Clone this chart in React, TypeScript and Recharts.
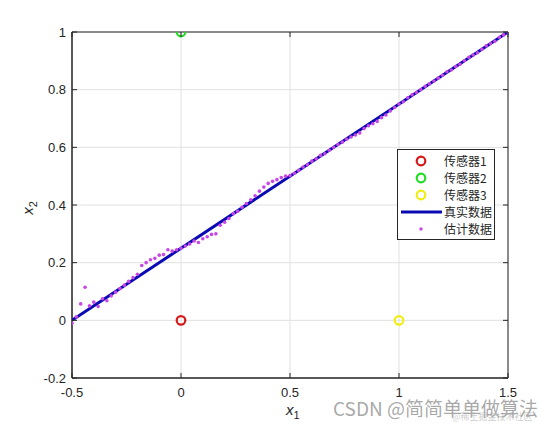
import { ScatterChart, Scatter, XAxis, YAxis, CartesianGrid, ReferenceArea, Legend } from 'recharts';

// axis ticks
const xTicks = [-0.5, 0, 0.5, 1, 1.5];
const yTicks = [-0.2, 0, 0.2, 0.4, 0.6, 0.8, 1];

// sensor positions
const sensor1 = [{ x: 0, y: 0 }];
const sensor2 = [{ x: 0, y: 1 }];
const sensor3 = [{ x: 1, y: 0 }];

// true trajectory (end points)
const trueX = [-0.5, 1.5];
const trueY = [0, 1];

// estimated trajectory
const estX = [
  -0.5, -0.48, -0.46, -0.44, -0.42, -0.4, -0.38, -0.36, -0.34, -0.32, -0.3, -0.28, -0.26, -0.24, -0.22, -0.2,
  -0.18, -0.16, -0.14, -0.12, -0.1, -0.08, -0.06, -0.04, -0.02, 0, 0.02, 0.04, 0.06, 0.08, 0.1, 0.12, 0.14,
  0.16, 0.18, 0.2, 0.22, 0.24, 0.26, 0.28, 0.3, 0.32, 0.34, 0.36, 0.38, 0.4, 0.42, 0.44, 0.46, 0.48, 0.5,
  0.52, 0.54, 0.56, 0.58, 0.6, 0.62, 0.64, 0.66, 0.68, 0.7, 0.72, 0.74, 0.76, 0.78, 0.8, 0.82, 0.84, 0.86,
  0.88, 0.9, 0.92, 0.94, 0.96, 0.98, 1, 1.02, 1.04, 1.06, 1.08, 1.1, 1.12, 1.14, 1.16, 1.18, 1.2, 1.22, 1.24,
  1.26, 1.28, 1.3, 1.32, 1.34, 1.36, 1.38, 1.4, 1.42, 1.44, 1.46, 1.48, 1.5,
];
const estY = [
  -0.01, 0.012, 0.057, 0.115, 0.05, 0.063, 0.048, 0.075, 0.068, 0.085, 0.097, 0.11, 0.122, 0.135, 0.148, 0.16,
  0.19, 0.2, 0.21, 0.215, 0.226, 0.228, 0.245, 0.24, 0.245, 0.25, 0.258, 0.265, 0.275, 0.27, 0.283, 0.29, 0.298,
  0.3, 0.33, 0.34, 0.353, 0.37, 0.378, 0.392, 0.405, 0.418, 0.432, 0.448, 0.462, 0.475, 0.482, 0.488, 0.495, 0.5, 0.502,
  0.51, 0.52, 0.532, 0.54, 0.552, 0.56, 0.572, 0.578, 0.59, 0.6, 0.61, 0.618, 0.628, 0.636, 0.643, 0.65, 0.665, 0.675,
  0.682, 0.69, 0.703, 0.712, 0.726, 0.738, 0.75, 0.758, 0.772, 0.782, 0.79, 0.8, 0.812, 0.82, 0.83, 0.84, 0.85, 0.862, 0.868,
  0.88, 0.888, 0.9, 0.912, 0.92, 0.928, 0.94, 0.952, 0.96, 0.968, 0.982, 0.99, 1.0,
];

const legendOrder = ['传感器1', '传感器2', '传感器3', '真实数据', '估计数据'];

const trueData = trueX.map((x, i) => ({ x, y: trueY[i] }));
const estData = estX.map((x, i) => ({ x, y: estY[i] }));

const TOP = 32;
const BOTTOM = 378;
const LEFT = 72;
const RIGHT = 508;
const AXIS_COLOR = '#262626';
const FONT = '"Liberation Sans", Arial, Helvetica, sans-serif';

const styles: Record<string, { kind: string; color: string }> = {
  '传感器1': { kind: 'ring', color: '#d81818' },
  '传感器2': { kind: 'ring', color: '#22dd22' },
  '传感器3': { kind: 'ring', color: '#eeee10' },
  '真实数据': { kind: 'line', color: '#0a0ab4' },
  '估计数据': { kind: 'dot', color: '#c846e6' },
};

const ring = (color: string) => (p: any) => (
  <circle cx={p.cx} cy={p.cy} r={4.3} fill="none" stroke={color} strokeWidth={2.2} />
);

const XTick = (p: any) => (
  <g>
    <line x1={p.x} y1={BOTTOM} x2={p.x} y2={BOTTOM - 5} stroke={AXIS_COLOR} />
    <line x1={p.x} y1={TOP} x2={p.x} y2={TOP + 5} stroke={AXIS_COLOR} />
    <text x={p.x} y={BOTTOM + 19} textAnchor="middle" fontSize={13} fill={AXIS_COLOR} fontFamily={FONT}>
      {String(p.payload.value)}
    </text>
  </g>
);

const YTick = (p: any) => (
  <g>
    <line x1={LEFT} y1={p.y} x2={LEFT + 5} y2={p.y} stroke={AXIS_COLOR} />
    <line x1={RIGHT} y1={p.y} x2={RIGHT - 5} y2={p.y} stroke={AXIS_COLOR} />
    <text x={LEFT - 6} y={p.y + 4.5} textAnchor="end" fontSize={13} fill={AXIS_COLOR} fontFamily={FONT}>
      {String(p.payload.value)}
    </text>
  </g>
);

const LegendBox = (props: any) => {
  const items = [...(props.payload || [])].sort(
    (a: any, b: any) => legendOrder.indexOf(a.value) - legendOrder.indexOf(b.value)
  );
  return (
    <div
      style={{
        border: '1px solid #262626',
        background: '#fff',
        width: 96,
        padding: '2px 0',
        fontFamily: '"Noto Sans CJK SC", sans-serif',
        fontSize: 12,
        color: '#262626',
      }}
    >
      {items.map((e: any) => {
        const s = styles[e.value] || { kind: 'dot', color: e.color };
        return (
          <div key={e.value} style={{ display: 'flex', alignItems: 'center', height: 17 }}>
            <svg width={46} height={16}>
              {s.kind === 'ring' && <circle cx={23} cy={8} r={4.3} fill="none" stroke={s.color} strokeWidth={2.2} />}
              {s.kind === 'line' && <line x1={3} y1={8} x2={44} y2={8} stroke={s.color} strokeWidth={3} />}
              {s.kind === 'dot' && <circle cx={23} cy={8} r={1.7} fill={s.color} />}
            </svg>
            <span style={{ lineHeight: '16px' }}>{e.value}</span>
          </div>
        );
      })}
    </div>
  );
};

export default function App() {
  return (
    <div style={{ position: 'absolute', left: 0, top: 0, width: 560, height: 424, background: '#fff' }}>
      <ScatterChart width={560} height={424} margin={{ top: TOP, right: 560 - RIGHT, bottom: 0, left: 0 }}>
        <CartesianGrid stroke="#e0e0e0" vertical horizontal />
        <XAxis
          type="number"
          dataKey="x"
          domain={[-0.5, 1.5]}
          ticks={xTicks}
          height={424 - BOTTOM}
          tickSize={0}
          tickMargin={0}
          axisLine={{ stroke: AXIS_COLOR }}
          tick={XTick}
          allowDataOverflow
          label={{
            content: (lp: any) => {
              const vb = lp.viewBox;
              return (
                <text x={vb.x + vb.width / 2 - 4} y={vb.y + 37} fontSize={15} fill={AXIS_COLOR} fontFamily={FONT}>
                  <tspan fontStyle="italic">x</tspan>
                  <tspan fontSize={11} dy={4}>1</tspan>
                </text>
              );
            },
          }}
        />
        <YAxis
          type="number"
          dataKey="y"
          domain={[-0.2, 1]}
          ticks={yTicks}
          width={LEFT}
          tickSize={0}
          tickMargin={0}
          axisLine={{ stroke: AXIS_COLOR }}
          tick={YTick}
          allowDataOverflow
          label={{
            content: (lp: any) => {
              const vb = lp.viewBox;
              const cx = vb.x + 33;
              const cy = vb.y + vb.height / 2 + 3;
              return (
                <text x={cx} y={cy} transform={`rotate(-90, ${cx}, ${cy})`} fontSize={15} fill={AXIS_COLOR} fontFamily={FONT} textAnchor="middle">
                  <tspan fontStyle="italic">x</tspan>
                  <tspan fontSize={11} dy={4}>2</tspan>
                </text>
              );
            },
          }}
        />
        <ReferenceArea x1={-0.5} x2={1.5} y1={-0.2} y2={1} fill="none" stroke={AXIS_COLOR} strokeWidth={1} />
        <Scatter name="传感器1" data={sensor1} shape={ring(styles['传感器1'].color)} fill={styles['传感器1'].color} isAnimationActive={false} />
        <Scatter name="传感器2" data={sensor2} shape={ring(styles['传感器2'].color)} fill={styles['传感器2'].color} isAnimationActive={false} />
        <Scatter name="传感器3" data={sensor3} shape={ring(styles['传感器3'].color)} fill={styles['传感器3'].color} isAnimationActive={false} />
        <Scatter
          name="真实数据"
          data={trueData}
          line={{ stroke: styles['真实数据'].color, strokeWidth: 3 }}
          shape={() => <g />}
          fill={styles['真实数据'].color}
          legendType="line"
          isAnimationActive={false}
        />
        <Scatter
          name="估计数据"
          data={estData}
          shape={(p: any) => <circle cx={p.cx} cy={p.cy} r={1.8} fill={styles['估计数据'].color} />}
          fill={styles['估计数据'].color}
          isAnimationActive={false}
        />
        <Legend
          layout="horizontal"
          verticalAlign="middle"
          align="center"
          wrapperStyle={{ left: 397, top: 149, width: 'auto' }}
          content={LegendBox}
        />
      </ScatterChart>
      <div
        style={{
          position: 'absolute',
          left: 333,
          top: 394,
          fontFamily: '"Noto Sans CJK SC", sans-serif',
          fontSize: 19,
          color: 'rgba(140,140,140,0.75)',
          whiteSpace: 'nowrap',
        }}
      >
        CSDN @简简单单做算法
      </div>
      <div
        style={{
          position: 'absolute',
          left: 452,
          top: 410,
          fontFamily: '"Noto Sans CJK SC", sans-serif',
          fontSize: 9,
          color: 'rgba(170,170,170,0.6)',
          whiteSpace: 'nowrap',
        }}
      >
        @稀土掘金技术社区
      </div>
    </div>
  );
}
